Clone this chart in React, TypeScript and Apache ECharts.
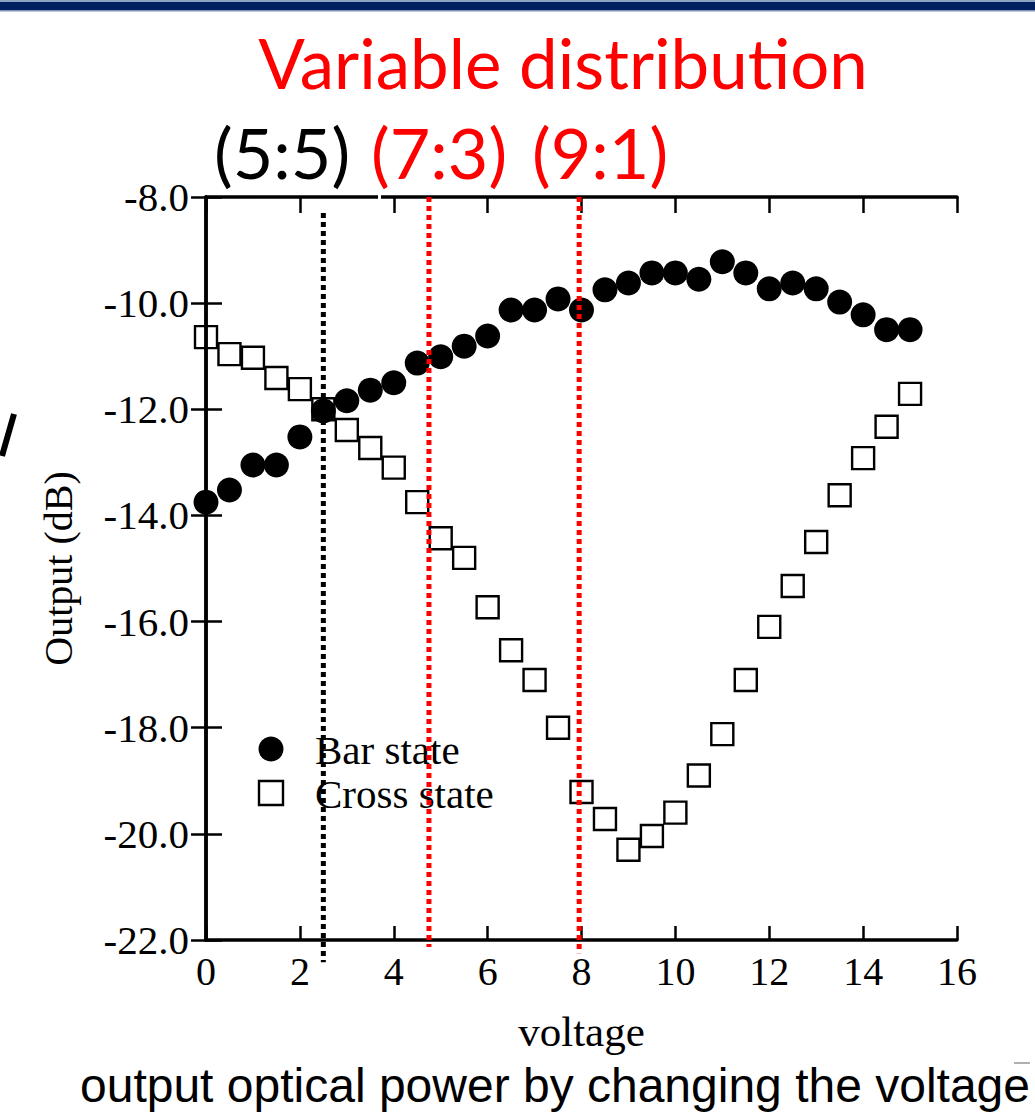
import React, { useEffect, useRef } from "react";
import * as echarts from "echarts";

// ---- data ----
const voltage = [0, 0.5, 1, 1.5, 2, 2.5, 3, 3.5, 4, 4.5, 5, 5.5, 6, 6.5, 7, 7.5, 8, 8.5, 9, 9.5, 10, 10.5, 11, 11.5, 12, 12.5, 13, 13.5, 14, 14.5, 15];
const barState = [-13.75, -13.52, -13.05, -13.05, -12.52, -12.03, -11.84, -11.64, -11.5, -11.13, -11.01, -10.81, -10.62, -10.13, -10.13, -9.92, -10.13, -9.75, -9.62, -9.43, -9.43, -9.55, -9.22, -9.43, -9.73, -9.62, -9.73, -9.98, -10.22, -10.5, -10.5];
const crossState = [-10.64, -10.96, -11.03, -11.41, -11.62, -12.0, -12.39, -12.73, -13.1, -13.75, -14.43, -14.8, -15.73, -16.54, -17.1, -18.0, -19.21, -19.72, -20.3, -20.04, -19.6, -18.9, -18.12, -17.1, -16.1, -15.33, -14.5, -13.62, -12.92, -12.33, -11.71];

// dotted marker lines (x position, top value, bottom value)
const markerX = [2.5, 4.75, 7.95];
const markerTop = [-8.3, -8.0, -8.0];
const markerBottom = [-22.42, -22.13, -22.25];
const markerColors = ["#000000", "#ff0000", "#ff0000"];

const xTicks = { min: 0, max: 16, interval: 2 };
const yTicks = { min: -22, max: -8, interval: 2 };

const title = "Variable distribution";
const ratioLabels = ["(5:5)", "(7:3)", "(9:1)"];
const ratioColors = ["#000000", "#ff0000", "#ff0000"];
const seriesNames = ["Bar state", "Cross state"];
const caption = "output optical power by changing the voltage";

const SERIF = "'Liberation Serif', 'Times New Roman', serif";
const SANS = "'Liberation Sans', Arial, sans-serif";
const TITLE_FONT = "Lato, 'Open Sans', sans-serif";

export default function App() {
  const ref = useRef<HTMLDivElement>(null);
  useEffect(() => {
    if (!ref.current) return;
    const chart = echarts.init(ref.current, undefined, { renderer: "svg" });

    const barData = voltage.map((v, i) => [v, barState[i]]);
    const crossData = voltage.map((v, i) => [v, crossState[i]]);
    const markerData = markerX.map((x, i) => [x, markerTop[i], markerBottom[i], i]);

    const axisLine = { show: true, lineStyle: { color: "#000", width: 3.5 } };
    const tickStyle = { color: "#000", width: 2.5 };

    const option: any = {
      animation: false,
      backgroundColor: "#ffffff",
      grid: { left: 206, right: 78, top: 197, bottom: 175, containLabel: false },
      xAxis: [
        {
          type: "value",
          ...xTicks,
          position: "bottom",
          axisLine,
          axisTick: { show: true, inside: true, length: 14, lineStyle: tickStyle },
          axisLabel: { show: true, fontFamily: SERIF, fontSize: 40, color: "#000", margin: 11, showMinLabel: true, showMaxLabel: true },
          splitLine: { show: false },
          name: "voltage",
          nameLocation: "middle",
          nameGap: 70,
          nameTextStyle: { fontFamily: SERIF, fontSize: 43, color: "#000" },
        },
        {
          type: "value",
          ...xTicks,
          position: "top",
          axisLine,
          axisTick: { show: true, inside: true, length: 16, lineStyle: tickStyle },
          axisLabel: { show: false },
          splitLine: { show: false },
        },
      ],
      yAxis: [
        {
          type: "value",
          ...yTicks,
          position: "left",
          axisLine,
          axisTick: { show: true, inside: true, length: 16, lineStyle: tickStyle },
          axisLabel: {
            show: true,
            fontFamily: SERIF,
            fontSize: 41,
            color: "#000",
            margin: 17,
            showMinLabel: true,
            showMaxLabel: true,
            formatter: (v: number) => v.toFixed(1),
          },
          splitLine: { show: false },
          name: "Output (dB)",
          nameLocation: "middle",
          nameRotate: 90,
          nameGap: 128,
          nameTextStyle: { fontFamily: SERIF, fontSize: 40, color: "#000" },
        },
        {
          type: "value",
          ...yTicks,
          position: "right",
          axisLine,
          axisTick: { show: true, inside: true, length: 15, lineStyle: tickStyle },
          axisLabel: { show: false },
          splitLine: { show: false },
        },
      ],
      series: [
        {
          name: seriesNames[1],
          type: "scatter",
          data: crossData,
          symbol: "rect",
          symbolSize: 22,
          itemStyle: { color: "rgba(255,255,255,0)", borderColor: "#000", borderWidth: 2.4, opacity: 1 },
          z: 3,
          clip: false,
        },
        {
          name: seriesNames[0],
          type: "scatter",
          data: barData,
          symbol: "circle",
          symbolSize: 25,
          itemStyle: { color: "#000", opacity: 1 },
          z: 4,
          clip: false,
        },
        {
          type: "custom",
          name: "markers",
          data: markerData,
          clip: false,
          z: 10,
          silent: true,
          encode: { x: 0, y: [1, 2] },
          renderItem: (params: any, api: any) => {
            const x = api.value(0);
            const p1 = api.coord([x, api.value(1)]);
            const p2 = api.coord([x, api.value(2)]);
            const idx = api.value(3);
            return {
              type: "line",
              shape: { x1: p1[0], y1: p1[1], x2: p2[0], y2: p2[1] },
              style: { stroke: markerColors[idx], lineWidth: 5, lineDash: [5, 4] },
            };
          },
        },
      ],
      graphic: [
        // top navy band
        { type: "rect", shape: { x: 0, y: 0, width: 1035, height: 2 }, style: { fill: "#8ea3c4" } },
        { type: "rect", shape: { x: 0, y: 2, width: 1035, height: 8 }, style: { fill: "#002060" } },
        { type: "rect", shape: { x: 0, y: 10, width: 1035, height: 1.5 }, style: { fill: "#7f95b9" } },
        // title
        {
          type: "text",
          x: 563,
          y: 62,
          style: { text: title, fill: "#ff0000", font: `69px ${TITLE_FONT}`, textAlign: "center", textVerticalAlign: "middle" },
        },
        { type: "text", x: 214, y: 152, style: { text: ratioLabels[0], fill: ratioColors[0], font: `70px ${TITLE_FONT}`, textAlign: "left", textVerticalAlign: "middle" } },
        { type: "text", x: 371, y: 152, style: { text: ratioLabels[1], fill: ratioColors[1], font: `70px ${TITLE_FONT}`, textAlign: "left", textVerticalAlign: "middle" } },
        { type: "text", x: 532, y: 152, style: { text: ratioLabels[2], fill: ratioColors[2], font: `70px ${TITLE_FONT}`, textAlign: "left", textVerticalAlign: "middle" } },
        // small gap in the top frame
        { type: "rect", z: 50, shape: { x: 378, y: 193, width: 3, height: 9 }, style: { fill: "#ffffff" } },
        // legend
        { type: "circle", shape: { cx: 271, cy: 749, r: 12.5 }, style: { fill: "#000" } },
        { type: "rect", shape: { x: 259, y: 781, width: 24, height: 24 }, style: { fill: "none", stroke: "#000", lineWidth: 2.4 } },
        { type: "text", x: 315, y: 750, style: { text: seriesNames[0], fill: "#000", font: `41px ${SERIF}`, textAlign: "left", textVerticalAlign: "middle" } },
        { type: "text", x: 315, y: 794, style: { text: seriesNames[1], fill: "#000", font: `41px ${SERIF}`, textAlign: "left", textVerticalAlign: "middle" } },
        // caption
        { type: "text", x: 80, y: 1085, style: { text: caption, fill: "#000", font: `48px ${SANS}`, textAlign: "left", textVerticalAlign: "middle" } },
        // cropped glyph at left edge
        { type: "line", shape: { x1: 14, y1: 414, x2: 2, y2: 456 }, style: { stroke: "#000", lineWidth: 6 } },
        // faint mark at bottom-right
        { type: "line", shape: { x1: 1014, y1: 1063, x2: 1030, y2: 1063 }, style: { stroke: "#b0b0b0", lineWidth: 2 } },
      ],
    };

    chart.setOption(option);
    return () => chart.dispose();
  }, []);

  return (
    <div
      ref={ref}
      style={{ position: "absolute", left: 0, top: 0, width: 1035, height: 1115, background: "#fff" }}
    />
  );
}
